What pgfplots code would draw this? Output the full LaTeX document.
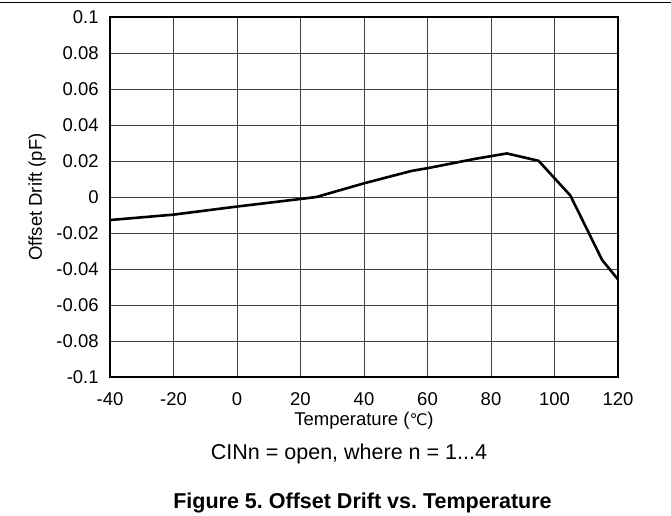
\documentclass[border=0pt]{standalone}
\usepackage{fontspec}
\setmainfont{Liberation Sans}
\newfontfamily\dejavu{DejaVu Sans}
\usepackage{pgfplots}
\pgfplotsset{compat=1.18}

\begin{document}
\frenchspacing
\fontsize{18.5bp}{22bp}\selectfont
\begin{tikzpicture}
\useasboundingbox (0,0) rectangle (671bp,516bp);
\draw[line width=1.6bp] (0,513.3bp) -- (671bp,513.3bp);
\begin{axis}[
    at={(110bp,139bp)}, anchor=south west,
    scale only axis,
    width=508bp, height=360bp,
    xmin=-40, xmax=120,
    ymin=-0.1, ymax=0.1,
    xtick={-40,-20,...,120},
    ytick={-0.1,-0.08,...,0.1},
    grid=major,
    grid style={black!75, line width=0.9bp},
    axis line style={line width=2.8bp},
    tick style={draw=none},
    /pgf/number format/assume math mode=true,
    /pgf/number format/fixed,
    /pgf/number format/precision=2,
    yticklabel style={xshift=-5bp},
    xticklabel style={yshift=-9bp},
    every axis x label/.style={at={(axis description cs:0.5,0)}, yshift=-44bp, anchor=center},
    every axis y label/.style={at={(axis description cs:-0.1437,0.5)}, rotate=90, anchor=center},
    xlabel={Temperature ({\dejavu\fontsize{16bp}{18bp}\selectfont ℃})},
    ylabel={Offset Drift (pF)},
    label style={font=\fontsize{18.5bp}{22bp}\selectfont},
    ticklabel style={font=\fontsize{18.5bp}{22bp}\selectfont},
]
\addplot[black, line width=2.6bp, line join=round] coordinates {
    (-40,-0.0128) (-20,-0.0098) (0,-0.0053) (20,-0.0011) (25,0)
    (40,0.0076) (55,0.0145) (60,0.0160) (75,0.0212) (85,0.0242)
    (95,0.0201) (105,0.0008) (115,-0.0350) (120,-0.0458)
};
\end{axis}
\node[font=\fontsize{21.5bp}{25bp}\selectfont] at (349bp,62bp) {CINn = open, where n = 1...4};
\node[font=\fontsize{21.5bp}{25bp}\selectfont\bfseries] at (362.5bp,13bp) {Figure 5. Offset Drift vs. Temperature};
\end{tikzpicture}
\end{document}
